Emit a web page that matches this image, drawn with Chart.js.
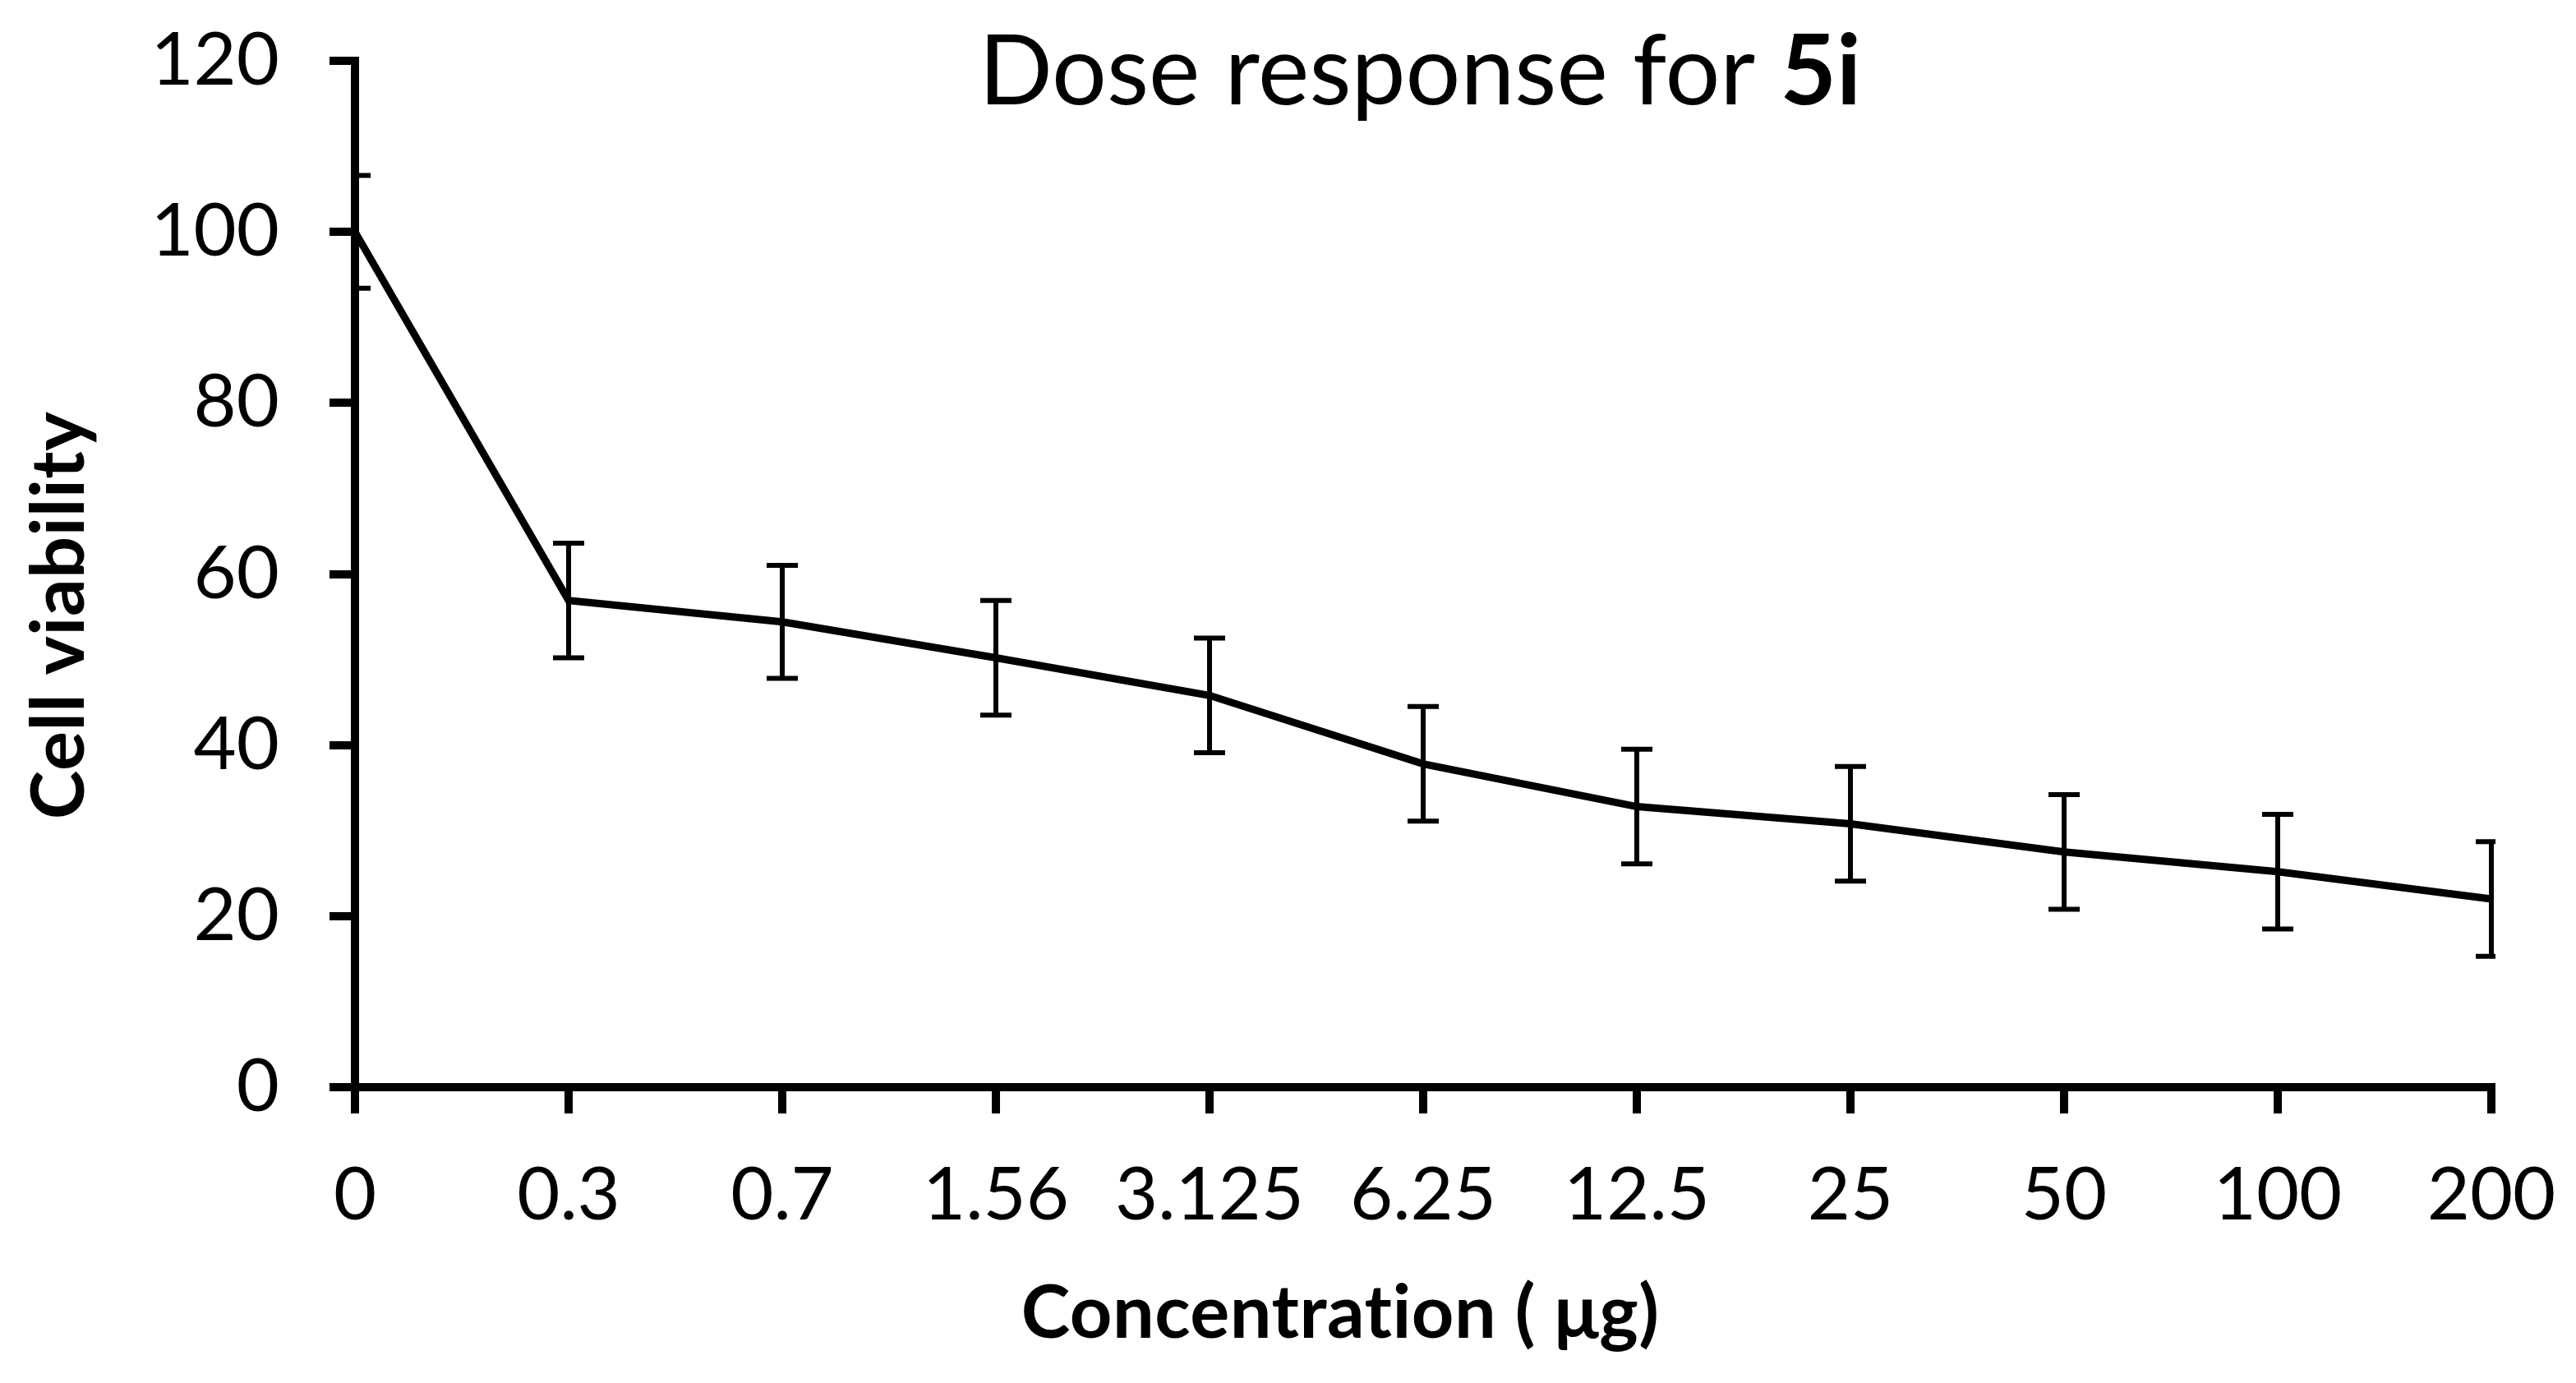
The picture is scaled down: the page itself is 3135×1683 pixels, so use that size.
<!DOCTYPE html>
<html>
<head>
<meta charset="utf-8">
<script src="https://cdn.jsdelivr.net/npm/chart.js@4.4.1/dist/chart.umd.min.js"></script>
<style>
  html, body { margin: 0; padding: 0; background: #ffffff; }
  #wrap { width: 3135px; height: 1683px; }
</style>
</head>
<body>
<div id="wrap"><canvas id="c" width="3135" height="1683"></canvas></div>
<script>
// ---- data ----
const concentrations = ['0', '0.3', '0.7', '1.56', '3.125', '6.25', '12.5', '25', '50', '100', '200'];
const viability = [100, 56.9, 54.4, 50.2, 45.8, 37.8, 32.8, 30.8, 27.5, 25.2, 22.0];
const viabilityError = [6.6, 6.7, 6.6, 6.7, 6.7, 6.7, 6.7, 6.7, 6.7, 6.7, 6.7];
const yTicks = [0, 20, 40, 60, 80, 100, 120];
const titleText = 'Dose response for ';
const titleBold = '5i';
const xTitle = 'Concentration ( μg)';
const yTitle = 'Cell viability';

const FONT = 'Lato, "Open Sans", "Noto Sans", sans-serif';

const errorBars = {
  id: 'errorBars',
  beforeDatasetsDraw(chart) {
    const ctx = chart.ctx;
    const xs = chart.scales.x, ys = chart.scales.y;
    const a = chart.chartArea;
    ctx.save();
    ctx.beginPath();
    ctx.rect(a.left, a.top - 40, a.right - a.left + 5, a.bottom - a.top + 80);
    ctx.clip();
    ctx.strokeStyle = '#000';
    ctx.lineWidth = 6;
    ctx.lineCap = 'butt';
    const half = 19;
    viability.forEach((v, i) => {
      const x = xs.getPixelForValue(i);
      const yt = ys.getPixelForValue(v + viabilityError[i]);
      const yb = ys.getPixelForValue(v - viabilityError[i]);
      ctx.beginPath();
      ctx.moveTo(x, yt); ctx.lineTo(x, yb);
      ctx.moveTo(x - half, yt); ctx.lineTo(x + half, yt);
      ctx.moveTo(x - half, yb); ctx.lineTo(x + half, yb);
      ctx.stroke();
    });
    ctx.restore();
  }
};

const texts = {
  id: 'texts',
  afterDraw(chart) {
    const ctx = chart.ctx;
    ctx.save();
    ctx.fillStyle = '#000';
    ctx.textBaseline = 'alphabetic';
    // title
    const fReg = '118px ' + FONT;
    const fBold = 'bold 118px ' + FONT;
    ctx.font = fReg;
    const w1 = ctx.measureText(titleText).width;
    ctx.font = fBold;
    const w2 = ctx.measureText(titleBold).width;
    const cx = 1728;
    let x0 = cx - (w1 + w2) / 2;
    ctx.textAlign = 'left';
    ctx.font = fReg;
    ctx.fillText(titleText, x0, 127);
    ctx.font = fBold;
    ctx.fillText(titleBold, x0 + w1, 127);
    // x title (small letter spacing avoids the "ti" ligature)
    if ('letterSpacing' in ctx) ctx.letterSpacing = '0.5px';
    ctx.font = 'bold 90px ' + FONT;
    ctx.textAlign = 'center';
    ctx.fillText(xTitle, 1631, 1628);
    // y title
    ctx.translate(102, 749);
    ctx.rotate(-Math.PI / 2);
    ctx.fillText(yTitle, 0, 0);
    ctx.restore();
  }
};

new Chart(document.getElementById('c'), {
  type: 'line',
  data: {
    labels: concentrations,
    datasets: [{
      data: viability,
      borderColor: '#000',
      borderWidth: 9,
      pointRadius: 0,
      pointHoverRadius: 0,
      tension: 0,
      fill: false
    }]
  },
  options: {
    responsive: false,
    animation: false,
    devicePixelRatio: 1,
    layout: { padding: { top: 74, right: 103, left: 0, bottom: 0 } },
    plugins: { legend: { display: false }, tooltip: { enabled: false }, title: { display: false } },
    scales: {
      x: {
        type: 'category',
        offset: false,
        grid: { display: true, drawOnChartArea: false, drawTicks: true, tickLength: 32, lineWidth: 10, color: '#000', offset: false },
        border: { display: true, width: 10, color: '#000' },
        ticks: { color: '#000', font: { family: FONT, size: 90 }, padding: 46, maxRotation: 0, autoSkip: false },
        afterFit(scale) { scale.height = 360; scale.paddingLeft = 0; scale.paddingRight = 0; }
      },
      y: {
        min: 0, max: 120,
        afterBuildTicks(scale) { scale.ticks = yTicks.map(v => ({ value: v })); },
        grid: { display: true, drawOnChartArea: false, drawTicks: true, tickLength: 31, lineWidth: 10, color: '#000' },
        border: { display: true, width: 10, color: '#000' },
        ticks: { color: '#000', font: { family: FONT, size: 90 }, padding: 61 },
        afterFit(scale) { scale.width = 432; scale.paddingTop = 0; scale.paddingBottom = 0; }
      }
    }
  },
  plugins: [errorBars, texts]
});
</script>
</body>
</html>
